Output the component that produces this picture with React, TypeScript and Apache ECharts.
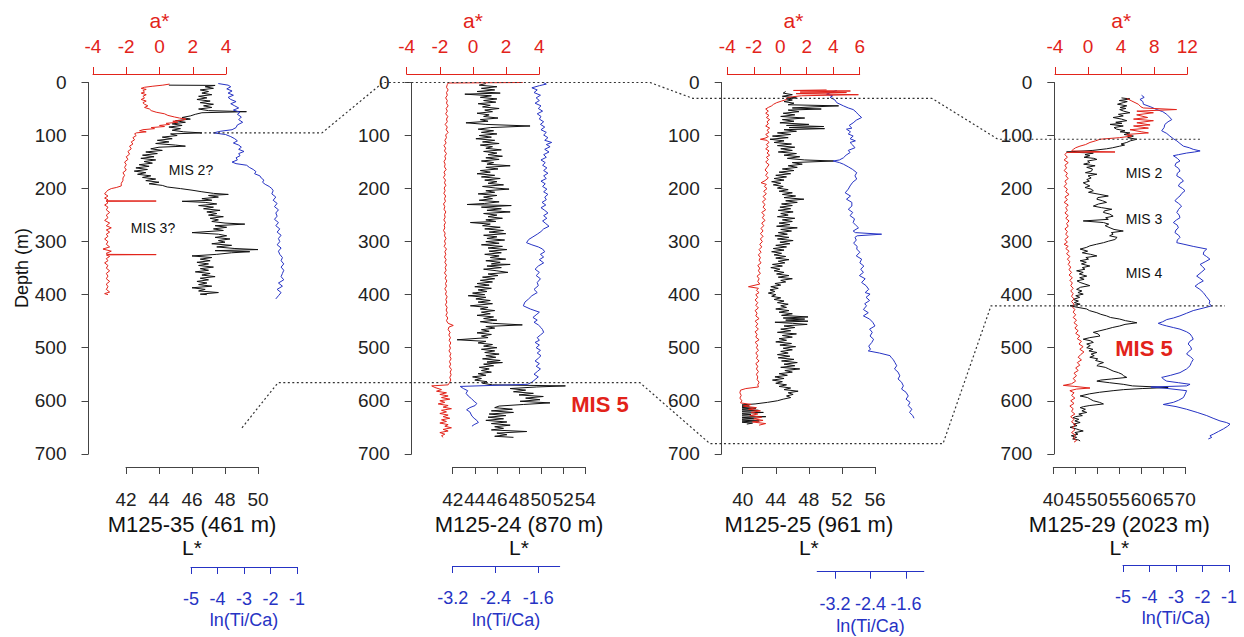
import React, { useEffect, useRef } from "react";
import * as echarts from "echarts";

// ---------------- DATA (pairs are [depth, value]) ----------------
const DEPTH_MIN = 0;
const DEPTH_MAX = 700;

const P1_A_TICKS = [-4, -2, 0, 2, 4];
const P1_L_TICKS = [42, 44, 46, 48, 50];
const P1_LN_TICKS = [-5, -4, -3, -2, -1];
const P2_A_TICKS = [-4, -2, 0, 2, 4];
const P2_L_TICKS = [42, 44, 46, 48, 50, 52, 54];
const P2_LN_TICKS = [-3.2, -2.4, -1.6];
const P3_A_TICKS = [-4, -2, 0, 2, 4, 6];
const P3_L_TICKS = [40, 44, 48, 52, 56];
const P3_LN_TICKS = [-3.2, -2.4, -1.6];
const P4_A_TICKS = [-4, 0, 4, 8, 12];
const P4_L_TICKS = [40, 45, 50, 55, 60, 65, 70];
const P4_LN_TICKS = [-5, -4, -3, -2, -1];

const P1_ASTAR: number[][] = [
  [3, 0.6], [5, 0.2], [7, -0.4], [9, -0.9], [11, -1.1], [13, -0.8], [15, -1.0], [18, -0.9], [20, -1.1], [23, -0.8],
  [26, -1.0], [29, -0.9], [32, -1.1], [35, -0.8], [38, -1.0], [41, -0.9], [44, -0.7], [47, -0.9], [50, -0.6], [53, -0.5],
  [56, -0.2], [59, 0.3], [62, 0.5], [65, 0.9], [67, 1.2], [69, 1.6], [71, 1.4], [73, 0.8], [75, 1.1], [77, 0.4],
  [79, 0.6], [81, 0.0], [83, 0.3], [85, -0.5], [87, -0.3], [89, -1.0], [91, -1.2], [93, -0.8], [95, -1.4], [97, -1.5],
  [100, -1.4], [104, -1.6], [108, -1.5], [112, -1.7], [116, -1.6], [120, -1.8], [125, -1.7], [130, -1.9], [135, -1.8], [140, -2.0],
  [145, -1.9], [150, -2.1], [155, -2.0], [160, -2.1], [165, -2.0], [170, -2.2], [175, -2.1], [180, -2.2], [185, -2.2], [190, -2.3],
  [195, -2.3], [198, -2.6], [200, -2.9], [203, -3.1], [206, -3.2], [210, -3.3], [214, -3.1], [218, -3.3], [221, -3.1], [223, -3.2],
  [223.5, -0.2], [224, -3.2], [227, -3.1], [231, -3.3], [235, -3.1], [240, -3.2], [245, -3.0], [250, -3.2], [255, -3.1], [260, -3.3],
  [265, -3.0], [270, -3.2], [274, -2.9], [278, -3.2], [282, -3.0], [286, -3.2], [290, -3.1], [295, -3.3], [300, -3.1], [305, -3.2],
  [310, -3.0], [314, -3.4], [318, -2.9], [322, -3.2], [324, -3.1], [324.5, -0.2], [325, -3.2], [328, -3.0], [332, -3.2], [336, -3.1],
  [340, -3.3], [345, -3.1], [350, -3.2], [355, -3.0], [360, -3.2], [365, -3.1], [370, -3.2], [375, -3.0], [380, -3.2], [385, -3.1],
  [390, -3.2], [395, -3.0], [398, -3.3], [400, -3.1]
];
const P1_LSTAR: number[][] = [
  [5, 44.6], [5.5, 47.4], [8, 46.8], [11, 47.3], [14, 46.5], [17, 47.0], [20, 46.6], [23, 47.2], [26, 46.4], [29, 46.9],
  [32, 46.3], [35, 47.1], [38, 46.5], [41, 47.3], [44, 46.7], [47, 47.2], [50, 46.4], [53, 47.0], [55, 49.3], [57, 46.6],
  [60, 46.2], [63, 45.9], [66, 45.4], [69, 45.9], [72, 45.0], [75, 45.6], [78, 44.8], [81, 45.4], [84, 44.6], [87, 45.3],
  [90, 44.8], [93, 45.5], [95, 46.6], [97, 44.7], [100, 45.1], [103, 44.2], [106, 44.8], [109, 43.9], [112, 44.6], [115, 43.8],
  [118, 45.0], [120, 45.6], [122, 44.0], [125, 43.5], [128, 44.2], [131, 43.2], [134, 43.9], [137, 43.0], [140, 43.7], [143, 42.9],
  [146, 43.8], [149, 43.1], [152, 43.6], [155, 42.8], [158, 43.4], [161, 42.6], [164, 43.3], [167, 42.5], [170, 43.2], [173, 42.7],
  [176, 43.5], [179, 43.0], [182, 43.8], [185, 43.2], [188, 44.0], [191, 43.4], [194, 44.2], [197, 44.5], [200, 45.3], [203, 46.0],
  [206, 46.6], [209, 47.3], [211, 48.2], [213, 47.0], [216, 47.6], [219, 46.6], [222, 47.2], [224, 45.4], [226, 46.8], [229, 47.5],
  [232, 46.4], [235, 47.3], [238, 46.7], [241, 47.7], [244, 46.9], [247, 47.5], [250, 47.0], [253, 47.9], [256, 47.1], [259, 47.6],
  [262, 47.2], [265, 48.0], [267, 49.2], [270, 47.4], [273, 48.1], [276, 47.3], [279, 47.9], [283, 46.0], [286, 47.6], [289, 48.1],
  [292, 47.4], [295, 48.3], [298, 47.6], [301, 48.0], [304, 47.2], [307, 48.4], [310, 47.5], [313, 48.6], [315, 50.0], [317, 47.4],
  [319, 49.5], [321, 48.4], [324, 47.5], [327, 46.0], [330, 47.2], [333, 46.5], [336, 47.1], [339, 46.3], [342, 47.0], [345, 46.4],
  [348, 47.3], [351, 46.5], [354, 47.0], [357, 46.2], [360, 47.1], [363, 46.6], [366, 47.4], [369, 46.5], [372, 47.0], [375, 46.3],
  [378, 46.9], [381, 46.4], [384, 47.2], [387, 46.0], [390, 46.8], [393, 46.4], [396, 47.6], [399, 46.5], [400, 46.9]
];
const P1_LNTICA: number[][] = [
  [2, -3.97], [5, -3.6], [8, -3.5], [12, -3.65], [16, -3.45], [20, -3.6], [24, -3.4], [28, -3.6], [32, -3.5], [36, -3.3],
  [40, -3.5], [44, -3.35], [48, -3.2], [52, -3.4], [56, -3.15], [60, -3.25], [65, -3.1], [70, -3.2], [75, -3.05], [80, -3.25],
  [85, -3.3], [89, -3.45], [92, -3.9], [95, -4.15], [98, -3.7], [102, -3.5], [106, -3.35], [110, -3.25], [114, -3.4], [118, -3.2],
  [122, -3.1], [126, -3.2], [130, -3.0], [134, -3.2], [138, -3.15], [142, -3.3], [146, -3.25], [150, -3.45], [153, -3.3], [156, -2.9],
  [160, -2.8], [164, -2.65], [168, -2.55], [172, -2.6], [176, -2.4], [180, -2.35], [184, -2.25], [188, -2.3], [192, -2.2], [196, -2.05],
  [200, -1.95], [204, -1.9], [210, -1.95], [216, -1.8], [222, -1.9], [228, -1.75], [234, -1.85], [240, -1.7], [246, -1.8], [252, -1.75],
  [258, -1.85], [264, -1.7], [270, -1.8], [276, -1.65], [282, -1.75], [288, -1.6], [294, -1.7], [300, -1.65], [306, -1.75], [312, -1.6],
  [318, -1.7], [324, -1.65], [330, -1.55], [336, -1.6], [342, -1.5], [348, -1.6], [354, -1.5], [360, -1.55], [366, -1.6], [372, -1.5],
  [378, -1.7], [384, -1.55], [390, -1.75], [396, -1.6], [402, -1.7], [408, -1.8]
];

const P2_ASTAR: number[][] = [
  [0, 3.0], [1, -1.5], [4, -1.55], [9, -1.6], [14, -1.5], [19, -1.6], [24, -1.55], [29, -1.65], [34, -1.55], [39, -1.6],
  [44, -1.5], [49, -1.62], [54, -1.55], [59, -1.65], [64, -1.52], [69, -1.6], [74, -1.55], [79, -1.68], [84, -1.55], [89, -1.62],
  [94, -1.5], [99, -1.65], [104, -1.6], [109, -1.7], [114, -1.62], [119, -1.75], [124, -1.65], [129, -1.72], [134, -1.6], [139, -1.7],
  [144, -1.65], [149, -1.75], [154, -1.68], [159, -1.72], [164, -1.62], [169, -1.75], [174, -1.68], [179, -1.78], [184, -1.66], [189, -1.72],
  [194, -1.64], [199, -1.74], [204, -1.68], [209, -1.76], [214, -1.65], [219, -1.72], [224, -1.66], [229, -1.78], [234, -1.7], [239, -1.75],
  [244, -1.64], [249, -1.72], [254, -1.68], [259, -1.76], [264, -1.66], [269, -1.74], [274, -1.7], [279, -1.78], [284, -1.68], [289, -1.72],
  [294, -1.63], [299, -1.72], [304, -1.66], [309, -1.74], [314, -1.6], [319, -1.7], [324, -1.64], [329, -1.72], [334, -1.62], [339, -1.7],
  [344, -1.6], [349, -1.68], [354, -1.62], [359, -1.72], [364, -1.6], [369, -1.68], [374, -1.58], [379, -1.66], [384, -1.6], [389, -1.7],
  [394, -1.6], [399, -1.66], [404, -1.56], [409, -1.64], [414, -1.58], [419, -1.66], [424, -1.56], [429, -1.62], [434, -1.55], [439, -1.63],
  [444, -1.52], [449, -1.6], [454, -1.5], [458, -1.19], [461, -1.45], [466, -1.5], [471, -1.38], [476, -1.46], [481, -1.36], [486, -1.44],
  [491, -1.34], [496, -1.42], [501, -1.36], [506, -1.45], [511, -1.34], [516, -1.4], [521, -1.32], [526, -1.42], [531, -1.35], [536, -1.42],
  [541, -1.3], [546, -1.38], [551, -1.32], [556, -1.4], [561, -1.34], [566, -1.42], [570, -1.5], [572, -2.49], [575, -2.3], [579, -1.9],
  [582, -2.2], [585, -1.6], [588, -2.0], [591, -1.5], [594, -1.9], [597, -1.4], [600, -2.0], [603, -1.7], [606, -2.1], [609, -1.5],
  [612, -1.8], [615, -1.3], [618, -1.9], [621, -1.6], [624, -2.0], [627, -1.5], [630, -1.8], [633, -1.4], [636, -1.9], [639, -1.6],
  [642, -2.0], [645, -1.5], [648, -1.7], [651, -1.3], [654, -1.8], [657, -1.5], [660, -2.0], [663, -1.7], [666, -1.9], [669, -1.8]
];
const P2_LSTAR: number[][] = [
  [2, 45.0], [5, 44.4], [8, 46.0], [11, 44.6], [14, 45.8], [17, 44.2], [20, 46.3], [22, 43.1], [25, 45.5], [28, 44.5],
  [31, 46.0], [34, 44.8], [37, 45.9], [40, 44.3], [43, 45.4], [46, 44.7], [49, 46.2], [52, 44.9], [55, 45.6], [58, 44.2],
  [61, 45.3], [64, 44.8], [67, 46.1], [70, 44.5], [73, 45.2], [76, 43.2], [79, 45.0], [82, 49.0], [85, 45.4], [88, 44.3],
  [91, 45.7], [94, 44.6], [97, 46.0], [100, 44.4], [103, 45.5], [106, 44.1], [109, 45.8], [112, 44.7], [115, 46.2], [118, 44.5],
  [121, 45.6], [124, 45.0], [127, 46.4], [130, 44.8], [133, 46.0], [136, 45.2], [139, 46.5], [142, 45.0], [145, 46.2], [148, 44.6],
  [151, 45.7], [154, 45.1], [157, 47.2], [160, 45.0], [163, 46.1], [166, 44.5], [169, 45.4], [172, 44.2], [175, 45.8], [178, 44.6],
  [181, 46.3], [184, 44.9], [187, 46.0], [190, 45.2], [193, 46.6], [196, 44.7], [199, 45.9], [201, 47.1], [204, 45.0], [207, 45.8],
  [210, 44.3], [213, 46.0], [216, 44.8], [219, 45.6], [222, 44.4], [225, 46.2], [228, 44.9], [230, 43.3], [232, 47.3], [235, 44.6],
  [238, 46.4], [241, 45.1], [244, 47.2], [247, 44.8], [250, 46.0], [253, 45.2], [256, 46.5], [259, 45.0], [262, 45.9], [264, 43.6],
  [267, 45.4], [270, 44.7], [273, 46.3], [276, 44.9], [279, 46.6], [282, 45.3], [285, 46.8], [288, 44.8], [291, 46.0], [294, 45.1],
  [297, 46.7], [300, 45.0], [303, 46.2], [306, 44.6], [309, 46.5], [312, 45.2], [315, 46.9], [318, 45.3], [321, 46.4], [324, 44.9],
  [327, 46.2], [330, 45.4], [333, 46.8], [336, 45.0], [339, 46.3], [342, 45.5], [343, 47.2], [346, 45.1], [349, 46.4], [352, 44.8],
  [355, 46.0], [358, 47.0], [361, 45.2], [364, 46.1], [367, 44.7], [370, 45.8], [373, 44.5], [376, 45.6], [379, 44.2], [382, 45.3],
  [385, 44.0], [388, 45.5], [391, 44.3], [394, 45.1], [397, 43.8], [400, 44.9], [402, 43.4], [405, 45.0], [408, 44.1], [411, 45.4],
  [414, 44.3], [417, 45.6], [421, 43.6], [424, 45.2], [427, 44.5], [430, 45.8], [433, 44.6], [436, 45.4], [439, 44.2], [442, 45.7],
  [445, 44.8], [448, 46.0], [451, 44.5], [454, 45.6], [457, 48.3], [460, 45.0], [463, 45.8], [466, 44.6], [469, 45.3], [472, 44.2],
  [475, 45.5], [478, 44.6], [481, 45.2], [485, 42.4], [488, 45.0], [491, 44.3], [494, 45.6], [497, 44.8], [500, 46.0], [503, 44.6],
  [506, 45.8], [509, 44.9], [512, 46.2], [515, 45.0], [518, 45.9], [521, 44.7], [524, 46.3], [527, 45.1], [528, 46.5], [531, 44.8],
  [534, 45.7], [537, 44.4], [540, 45.3], [543, 44.6], [546, 45.5], [549, 44.3], [552, 45.0], [555, 43.8], [558, 44.6], [561, 44.0],
  [564, 45.1], [567, 44.7], [570, 45.6], [572, 52.2], [574, 49.6], [577, 47.2], [580, 48.6], [583, 47.5], [586, 49.3], [589, 48.0],
  [592, 50.2], [595, 48.6], [598, 49.9], [601, 48.1], [604, 50.8], [607, 48.4], [610, 46.2], [613, 45.8], [616, 47.4], [619, 45.5],
  [622, 47.5], [625, 45.3], [628, 46.8], [631, 45.2], [634, 46.6], [637, 45.0], [640, 46.9], [643, 45.5], [646, 47.2], [649, 45.8],
  [652, 46.6], [655, 45.5], [658, 48.7], [661, 46.0], [664, 46.9], [667, 45.8], [669, 47.5]
];
const P2_LNTICA: number[][] = [
  [0, -1.51], [3, -1.45], [6, -1.58], [10, -1.72], [14, -1.62], [19, -1.68], [24, -1.56], [29, -1.64], [34, -1.58], [39, -1.66],
  [44, -1.55], [49, -1.6], [54, -1.52], [59, -1.62], [64, -1.55], [69, -1.58], [74, -1.5], [79, -1.56], [84, -1.48], [89, -1.55],
  [94, -1.45], [99, -1.5], [104, -1.42], [109, -1.48], [113, -1.35], [117, -1.45], [121, -1.38], [126, -1.48], [131, -1.4], [136, -1.5],
  [141, -1.45], [146, -1.55], [151, -1.47], [156, -1.52], [161, -1.44], [166, -1.5], [171, -1.42], [176, -1.5], [181, -1.45], [186, -1.55],
  [191, -1.47], [196, -1.52], [201, -1.44], [206, -1.5], [211, -1.42], [216, -1.48], [221, -1.45], [226, -1.53], [231, -1.46], [236, -1.55],
  [241, -1.48], [246, -1.42], [251, -1.5], [256, -1.44], [261, -1.52], [266, -1.46], [271, -1.4], [276, -1.5], [281, -1.55], [286, -1.62],
  [291, -1.7], [296, -1.78], [302, -1.82], [306, -1.72], [310, -1.6], [314, -1.52], [319, -1.48], [324, -1.56], [329, -1.5], [334, -1.58],
  [340, -1.5], [346, -1.6], [352, -1.66], [358, -1.58], [364, -1.64], [370, -1.56], [377, -1.62], [383, -1.6], [390, -1.68], [396, -1.62],
  [402, -1.72], [408, -1.78], [414, -1.85], [421, -1.88], [427, -1.75], [433, -1.58], [438, -1.64], [443, -1.7], [448, -1.62], [452, -1.68],
  [457, -1.6], [462, -1.55], [466, -1.52], [471, -1.5], [476, -1.56], [481, -1.62], [486, -1.58], [490, -1.66], [495, -1.58], [500, -1.64],
  [505, -1.56], [510, -1.62], [515, -1.55], [520, -1.6], [525, -1.66], [530, -1.58], [535, -1.64], [540, -1.56], [545, -1.62], [550, -1.68],
  [555, -1.6], [560, -1.66], [565, -1.72], [569, -1.8], [573, -3.06], [577, -3.0], [581, -2.92], [586, -2.95], [591, -2.91], [596, -2.85],
  [601, -2.8], [605, -2.75], [609, -2.78], [613, -2.88], [617, -2.94], [621, -2.88], [625, -2.86], [629, -2.84], [633, -2.8], [637, -2.75],
  [641, -2.72], [645, -2.8], [648, -2.84]
];

const P3_ASTAR: number[][] = [
  [14, 3.5], [15, 1.0], [16, 5.3], [18, 1.5], [19, 5.0], [21, 1.2], [23, 5.9], [25, 1.6], [27, 0.9], [29, 0.5],
  [32, 0.48], [35, 0.1], [38, -0.27], [41, -0.5], [44, -0.65], [47, -0.9], [50, -1.1], [54, -0.9], [58, -1.1], [62, -0.85],
  [66, -1.05], [70, -0.8], [74, -1.0], [78, -0.9], [82, -1.1], [86, -0.8], [90, -1.0], [94, -0.85], [98, -1.1], [102, -0.9],
  [105, -1.15], [107, -1.5], [109, -1.0], [113, -0.85], [117, -1.05], [121, -0.9], [125, -1.1], [129, -0.85], [133, -1.0], [137, -0.8],
  [141, -1.05], [145, -0.9], [150, -1.1], [155, -0.85], [160, -1.0], [165, -1.15], [170, -0.95], [175, -1.1], [180, -0.9], [185, -1.15],
  [189, -1.45], [192, -1.05], [196, -1.2], [200, -1.0], [205, -1.25], [210, -1.05], [215, -1.3], [220, -1.1], [225, -1.35], [230, -1.15],
  [235, -1.3], [240, -1.1], [245, -1.4], [250, -1.2], [255, -1.35], [260, -1.15], [265, -1.4], [270, -1.25], [275, -1.45], [280, -1.3],
  [285, -1.5], [290, -1.3], [295, -1.5], [300, -1.35], [305, -1.55], [310, -1.4], [315, -1.6], [320, -1.45], [325, -1.65], [330, -1.5],
  [335, -1.6], [340, -1.45], [345, -1.7], [350, -1.55], [355, -1.65], [360, -1.5], [365, -1.75], [370, -1.6], [375, -1.7], [380, -1.55],
  [385, -2.4], [388, -1.65], [392, -1.8], [396, -1.6], [400, -1.85], [405, -1.7], [410, -1.9], [415, -1.7], [420, -1.85], [425, -1.65],
  [430, -1.9], [435, -1.75], [440, -1.85], [445, -1.6], [450, -1.9], [455, -1.7], [460, -1.85], [465, -1.65], [470, -1.9], [475, -1.75],
  [480, -1.85], [485, -1.6], [490, -1.9], [495, -1.7], [500, -1.8], [505, -1.65], [510, -1.85], [515, -1.7], [520, -1.8], [525, -1.6],
  [530, -1.85], [535, -1.7], [540, -1.8], [545, -1.65], [550, -1.8], [555, -1.7], [560, -1.75], [565, -1.6], [570, -1.7], [574, -1.65],
  [577, -2.6], [580, -3.0], [585, -3.05], [590, -2.95], [595, -3.05], [600, -2.9], [604, -3.0], [607, -2.2], [610, -2.8], [613, -1.8],
  [616, -2.4], [619, -1.5], [622, -2.2], [625, -1.7], [628, -2.3], [631, -1.4], [634, -2.0], [637, -1.3], [640, -2.1], [643, -1.1],
  [646, -1.6]
];
const P3_LSTAR: number[][] = [
  [17, 45.2], [20, 44.9], [23, 46.0], [26, 44.8], [29, 46.5], [31, 45.3], [33, 46.0], [36, 45.0], [39, 46.2], [42, 45.5],
  [44, 51.6], [46, 48.5], [48, 46.0], [50, 49.5], [52, 45.5], [55, 46.8], [58, 44.9], [61, 46.3], [64, 44.6], [67, 47.5],
  [70, 44.8], [73, 46.2], [76, 44.5], [79, 48.0], [81, 45.3], [83, 49.8], [85, 45.6], [87, 49.9], [89, 45.0], [92, 46.5],
  [95, 44.2], [98, 45.8], [101, 43.6], [104, 45.5], [107, 43.3], [110, 45.0], [113, 43.8], [116, 45.9], [119, 44.2], [122, 46.3],
  [125, 44.6], [128, 46.0], [131, 44.3], [134, 46.5], [137, 45.0], [140, 46.9], [143, 45.4], [146, 47.5], [148, 51.0], [151, 46.0],
  [154, 47.2], [157, 45.5], [160, 46.6], [163, 44.8], [166, 46.2], [169, 44.4], [172, 45.8], [175, 44.0], [178, 45.3], [181, 43.8],
  [184, 45.0], [187, 43.5], [190, 44.6], [193, 43.7], [196, 44.9], [199, 44.2], [202, 45.5], [205, 44.4], [208, 46.0], [211, 44.8],
  [214, 46.4], [217, 45.0], [220, 47.4], [223, 45.2], [226, 46.6], [229, 44.7], [232, 46.0], [235, 44.5], [238, 45.8], [241, 44.3],
  [244, 46.1], [247, 44.6], [250, 45.5], [253, 44.2], [256, 46.3], [259, 44.8], [262, 46.0], [265, 44.4], [268, 45.7], [271, 44.1],
  [274, 46.6], [277, 44.6], [280, 45.9], [283, 44.3], [286, 45.4], [289, 43.9], [292, 45.6], [295, 44.2], [298, 46.1], [301, 44.5],
  [304, 45.7], [307, 44.0], [310, 45.3], [313, 43.7], [316, 45.0], [319, 43.5], [322, 44.7], [325, 43.8], [328, 45.2], [331, 44.0],
  [334, 45.6], [337, 44.3], [340, 45.1], [343, 43.6], [346, 44.8], [349, 43.4], [352, 44.5], [355, 43.8], [358, 45.0], [361, 44.1],
  [364, 45.6], [367, 44.3], [370, 46.0], [373, 44.6], [376, 45.2], [379, 43.9], [382, 44.6], [385, 43.4], [388, 44.3], [391, 43.3],
  [394, 43.9], [397, 43.1], [400, 44.0], [403, 43.5], [406, 44.6], [409, 43.8], [412, 45.0], [415, 44.2], [418, 45.5], [421, 44.6],
  [424, 45.3], [427, 44.0], [430, 45.6], [433, 44.4], [436, 46.0], [439, 44.7], [442, 47.9], [444, 44.9], [446, 47.5], [448, 45.2],
  [450, 47.9], [452, 43.9], [454, 46.0], [456, 47.8], [459, 45.0], [462, 46.3], [465, 44.6], [468, 45.8], [471, 44.2], [474, 46.5],
  [477, 44.8], [480, 46.0], [483, 44.4], [486, 45.3], [489, 44.0], [492, 45.9], [495, 44.5], [498, 46.4], [501, 44.9], [504, 46.0],
  [507, 44.6], [510, 45.5], [513, 44.2], [516, 45.7], [519, 44.3], [522, 46.2], [525, 44.7], [528, 46.6], [531, 45.0], [534, 46.3],
  [537, 44.6], [540, 46.9], [543, 45.1], [546, 46.0], [549, 44.4], [552, 45.4], [555, 43.9], [558, 45.0], [561, 43.6], [564, 44.8],
  [567, 44.0], [570, 45.3], [573, 44.4], [576, 45.8], [579, 45.0], [582, 46.7], [585, 45.5], [588, 46.1], [591, 45.3], [594, 45.8],
  [597, 44.9], [600, 44.2], [603, 43.0], [606, 41.5], [608, 39.6], [610, 40.8], [612, 39.2], [614, 41.6], [616, 39.0], [618, 41.9],
  [620, 38.9], [622, 42.5], [624, 39.4], [626, 41.0], [628, 38.8], [630, 42.8], [632, 39.5], [634, 41.4], [636, 38.7], [638, 42.0],
  [640, 39.3], [642, 41.2], [644, 40.5]
];
const P3_LNTICA: number[][] = [
  [15, -3.16], [19, -3.3], [22, -3.39], [25, -3.25], [28, -3.31], [33, -3.2], [38, -3.16], [44, -3.01], [48, -2.9], [51, -2.79],
  [56, -2.72], [60, -2.68], [66, -2.6], [71, -2.72], [76, -2.79], [81, -2.88], [86, -2.82], [88, -2.94], [93, -2.85], [97, -2.9],
  [101, -2.79], [106, -2.86], [110, -2.74], [113, -2.86], [118, -2.8], [123, -2.75], [128, -2.9], [132, -2.86], [137, -2.95], [142, -3.01],
  [146, -3.1], [148, -3.24], [151, -3.1], [154, -3.01], [159, -2.9], [164, -2.8], [170, -2.71], [176, -2.75], [182, -2.71], [188, -2.8],
  [195, -2.86], [201, -2.9], [208, -2.97], [214, -2.85], [220, -2.94], [226, -2.82], [233, -2.82], [239, -2.9], [245, -2.8], [251, -2.86],
  [257, -2.76], [264, -2.79], [270, -2.72], [274, -2.67], [280, -2.79], [283, -2.74], [286, -2.15], [289, -2.7], [292, -2.75], [297, -2.72],
  [303, -2.78], [309, -2.7], [314, -2.71], [320, -2.64], [327, -2.72], [333, -2.6], [340, -2.64], [346, -2.55], [352, -2.62], [358, -2.56],
  [364, -2.65], [370, -2.52], [377, -2.6], [383, -2.5], [390, -2.44], [396, -2.52], [399, -2.41], [405, -2.5], [411, -2.42], [417, -2.53],
  [421, -2.49], [428, -2.56], [434, -2.45], [440, -2.56], [446, -2.42], [452, -2.35], [459, -2.3], [465, -2.42], [471, -2.36], [478, -2.41],
  [484, -2.33], [490, -2.37], [497, -2.44], [503, -2.4], [506, -2.45], [510, -2.2], [515, -1.96], [519, -1.93], [522, -1.89], [528, -1.85],
  [534, -1.81], [540, -1.86], [546, -1.78], [553, -1.74], [559, -1.78], [565, -1.7], [572, -1.66], [578, -1.7], [584, -1.6], [591, -1.55],
  [597, -1.6], [603, -1.51], [609, -1.55], [616, -1.47], [622, -1.52], [628, -1.45], [633, -1.42]
];

const P4_ASTAR: number[][] = [
  [30, 4.67], [35, 5.3], [41, 6.08], [46, 6.4], [48, 6.68], [51, 10.7], [54, 5.9], [57, 7.9], [61, 5.88], [66, 7.2],
  [69, 5.5], [72, 7.9], [76, 5.9], [80, 7.5], [82, 5.5], [86, 7.3], [89, 5.07], [93, 6.5], [95, 7.3], [98, 4.67],
  [101, 5.3], [104, 3.8], [107, 1.44], [110, 0.9], [113, 0.23], [117, -0.3], [120, -0.98], [123, -1.5], [126, -1.78], [129, -2.0],
  [131, 3.26], [132, -2.59], [136, -2.8], [141, -2.5], [146, -2.9], [151, -2.4], [156, -2.8], [161, -2.6], [166, -2.9], [171, -2.5],
  [176, -2.7], [181, -2.4], [186, -2.8], [191, -2.6], [196, -2.9], [201, -2.5], [206, -2.7], [211, -2.3], [216, -2.8], [221, -2.5],
  [226, -2.9], [231, -2.4], [236, -2.7], [241, -2.5], [246, -2.8], [251, -2.4], [256, -2.7], [261, -2.3], [266, -2.6], [271, -2.4],
  [276, -2.8], [281, -2.5], [286, -2.7], [291, -2.4], [296, -2.8], [301, -2.5], [305, -2.9], [309, -2.4], [313, -2.7], [318, -2.3],
  [323, -2.6], [328, -2.2], [333, -2.5], [338, -2.2], [343, -2.4], [348, -2.1], [353, -2.3], [358, -2.0], [363, -2.3], [368, -1.9],
  [373, -2.2], [378, -1.9], [383, -2.1], [388, -1.8], [393, -2.1], [398, -1.8], [403, -2.0], [408, -1.7], [413, -2.0], [418, -1.7],
  [423, -1.9], [428, -1.6], [433, -1.8], [438, -1.5], [443, -1.8], [448, -1.4], [453, -1.7], [458, -1.3], [463, -1.6], [468, -1.2],
  [473, -1.5], [478, -1.0], [483, -1.3], [488, -0.8], [493, -1.1], [498, -0.6], [503, -1.0], [508, -0.5], [513, -0.9], [518, -1.2],
  [523, -0.8], [528, -1.3], [533, -1.0], [538, -1.5], [543, -1.2], [548, -1.7], [553, -1.4], [558, -1.8], [563, -1.5], [568, -2.0],
  [571, -2.99], [573, -1.6], [576, 0.23], [578, -1.4], [581, -2.2], [585, -1.7], [590, -2.0], [595, -1.6], [600, -2.1], [605, -1.7],
  [610, -2.2], [615, -1.8], [620, -2.0], [625, -1.6], [630, -2.1], [635, -1.7], [640, -2.0], [645, -1.5], [650, -1.9], [655, -1.6],
  [660, -2.0], [665, -1.5], [670, -1.8], [675, -1.4], [678, -1.7]
];
const P4_LSTAR: number[][] = [
  [29, 55.5], [31, 57.4], [34, 55.0], [36, 56.8], [38, 55.9], [41, 54.6], [44, 56.7], [47, 55.2], [49, 56.5], [51, 55.1],
  [54, 56.0], [57, 57.4], [60, 54.8], [63, 55.9], [66, 53.6], [69, 55.5], [72, 56.7], [75, 54.2], [77, 55.6], [79, 52.9],
  [82, 55.9], [85, 53.8], [88, 54.4], [91, 56.3], [93, 55.2], [95, 57.4], [98, 56.1], [101, 58.2], [104, 56.9], [107, 59.0],
  [110, 57.5], [113, 56.7], [116, 55.4], [118, 56.2], [120, 55.1], [123, 53.5], [125, 52.1], [128, 49.0], [131, 43.0], [133, 49.1],
  [136, 47.2], [138, 48.3], [141, 47.0], [143, 49.2], [145, 49.9], [148, 47.8], [151, 48.3], [154, 46.9], [157, 49.5], [160, 47.6],
  [163, 48.9], [167, 48.7], [170, 47.3], [173, 49.9], [176, 47.9], [180, 48.6], [183, 47.6], [186, 48.2], [189, 46.8], [192, 47.5],
  [195, 48.3], [198, 47.2], [201, 48.6], [204, 49.1], [207, 48.0], [211, 50.6], [214, 52.5], [217, 50.1], [220, 49.9], [223, 51.2],
  [226, 52.1], [229, 50.3], [233, 49.1], [236, 51.0], [239, 53.3], [242, 51.6], [245, 51.4], [248, 52.8], [252, 53.6], [255, 51.9],
  [258, 52.5], [261, 46.8], [264, 51.4], [267, 52.6], [270, 51.8], [274, 52.9], [277, 53.8], [280, 55.9], [283, 53.2], [286, 53.6],
  [289, 52.8], [292, 54.5], [296, 54.0], [299, 52.6], [302, 51.4], [305, 49.8], [308, 48.3], [311, 47.5], [314, 46.1], [318, 47.8],
  [321, 46.6], [324, 48.5], [327, 49.9], [330, 47.4], [333, 48.0], [336, 46.1], [339, 47.5], [342, 46.4], [346, 48.3], [349, 46.6],
  [352, 47.2], [355, 45.3], [358, 46.8], [361, 45.9], [365, 47.6], [368, 46.0], [371, 47.0], [374, 45.4], [377, 46.1], [380, 47.2],
  [383, 48.3], [386, 46.2], [390, 45.3], [393, 46.5], [396, 45.6], [399, 46.8], [402, 45.1], [405, 46.0], [409, 44.5], [412, 45.7],
  [415, 44.8], [418, 46.1], [421, 43.8], [424, 45.6], [427, 47.6], [430, 48.2], [434, 49.9], [437, 50.8], [440, 52.1], [443, 53.0],
  [446, 55.1], [449, 56.4], [451, 57.8], [453, 59.0], [456, 56.3], [459, 55.1], [462, 53.4], [465, 52.1], [468, 50.6], [471, 49.1],
  [474, 50.2], [478, 50.6], [481, 48.3], [484, 46.8], [487, 48.5], [490, 49.1], [493, 47.6], [496, 48.4], [500, 47.6], [503, 49.0],
  [506, 48.1], [509, 49.9], [512, 48.6], [515, 49.3], [518, 48.3], [521, 50.1], [524, 49.6], [528, 51.4], [531, 50.3], [534, 49.9],
  [537, 51.8], [540, 52.6], [544, 53.6], [547, 54.8], [550, 55.6], [553, 56.0], [556, 56.7], [559, 53.2], [561, 50.8], [563, 49.9],
  [566, 52.8], [569, 55.9], [572, 58.0], [575, 66.1], [577, 60.2], [579, 56.0], [581, 53.6], [584, 50.5], [587, 48.2], [591, 46.1],
  [594, 47.8], [597, 48.4], [600, 49.1], [603, 50.5], [606, 51.4], [609, 48.3], [611, 46.9], [613, 46.1], [616, 47.3], [619, 46.5],
  [622, 47.6], [625, 45.8], [628, 46.6], [630, 45.0], [632, 44.5], [635, 45.8], [638, 44.9], [641, 46.1], [644, 44.6], [647, 45.4],
  [650, 43.8], [653, 45.2], [655, 45.9], [657, 46.8], [660, 44.9], [663, 45.6], [666, 44.1], [669, 45.3], [672, 44.4], [674, 45.8],
  [676, 46.1]
];
const P4_LNTICA: number[][] = [
  [24, -4.3], [28, -4.2], [32, -4.36], [36, -4.25], [41, -4.23], [46, -3.95], [51, -3.73], [55, -3.5], [60, -3.35], [65, -3.25],
  [70, -3.16], [74, -3.3], [79, -3.42], [85, -3.45], [91, -3.54], [96, -3.35], [101, -3.23], [106, -3.1], [110, -2.97], [115, -2.85],
  [120, -2.72], [123, -2.5], [126, -2.35], [129, -2.09], [131, -2.3], [133, -2.6], [136, -2.9], [138, -3.1], [143, -2.95], [148, -2.85],
  [152, -3.0], [157, -3.04], [162, -2.9], [167, -2.85], [171, -2.95], [176, -2.97], [181, -2.8], [186, -2.72], [190, -2.85], [195, -2.91],
  [200, -2.75], [204, -2.66], [209, -2.78], [214, -2.85], [218, -2.95], [223, -3.04], [228, -2.9], [233, -2.79], [239, -2.9], [245, -2.97],
  [250, -2.88], [255, -2.85], [259, -2.98], [264, -3.1], [269, -2.95], [274, -2.91], [278, -3.0], [283, -3.04], [288, -2.9], [292, -2.85],
  [297, -2.95], [302, -2.97], [305, -2.7], [309, -2.35], [314, -1.84], [319, -1.95], [324, -1.97], [328, -1.85], [333, -1.72], [338, -1.9],
  [343, -2.09], [347, -2.0], [352, -1.91], [358, -2.05], [365, -2.22], [369, -2.1], [374, -1.97], [379, -2.15], [384, -2.28], [390, -2.1],
  [396, -1.97], [404, -1.85], [412, -1.72], [417, -1.75], [421, -1.65], [425, -1.95], [430, -2.35], [435, -2.6], [440, -2.85], [444, -3.1],
  [447, -3.35], [451, -3.5], [454, -3.67], [457, -3.5], [459, -3.35], [462, -3.1], [465, -2.85], [470, -2.6], [474, -2.47], [479, -2.4],
  [484, -2.35], [488, -2.48], [493, -2.54], [498, -2.45], [503, -2.41], [507, -2.52], [512, -2.6], [517, -2.45], [522, -2.35], [528, -2.42],
  [534, -2.47], [540, -2.6], [547, -2.85], [552, -3.2], [556, -3.54], [560, -3.45], [563, -3.35], [566, -2.9], [569, -2.47], [572, -2.6],
  [574, -3.95], [577, -3.3], [581, -2.6], [587, -2.65], [594, -2.72], [599, -2.9], [603, -3.1], [607, -3.48], [611, -3.0], [616, -2.6],
  [622, -2.2], [628, -1.84], [633, -1.6], [638, -1.34], [641, -1.1], [644, -0.96], [648, -1.05], [653, -1.21], [658, -1.4], [663, -1.59],
  [666, -1.72], [669, -1.65], [672, -1.78]
];

// correlation (tie) lines: depth per vertex
const TIE_UPPER_DEPTH = [95, 95, 0, 0, 30, 30, 107, 107];
const TIE_LOWER_DEPTH = [651, 566, 566, 681, 681, 421, 421];

// ---------------- LAYOUT / STYLE ----------------
const W = 1244;
const H = 637;
const TOP = 82.5;
const PLOT_H = 371.3;
const FONT = "'Liberation Sans', Arial, Helvetica, sans-serif";
const RED = "#e2231a";
const BLUE = "#2633c4";
const BLACK = "#111111";
const AXIS_GRAY = "#444444";
const TIE_UPPER_X = [200, 322, 383, 650, 693, 932, 998, 1200];
const TIE_LOWER_X = [242, 278, 640, 710, 943, 991, 1225];

const PANELS = [
  {
    title: "M125-35 (461 m)", depthX: 88.5,
    a: { min: -4, max: 4, ticks: P1_A_TICKS, x0: 93, x1: 226 },
    L: { min: 42, max: 50, ticks: P1_L_TICKS, x0: 126, x1: 258 },
    ln: { min: -5, max: -1, ticks: P1_LN_TICKS, x0: 191, x1: 297, y: 567, nameY: 620 },
    aData: P1_ASTAR, LData: P1_LSTAR, lnData: P1_LNTICA,
  },
  {
    title: "M125-24 (870 m)", depthX: 411.7,
    a: { min: -4, max: 4, ticks: P2_A_TICKS, x0: 406.7, x1: 539.3 },
    L: { min: 42, max: 54, ticks: P2_L_TICKS, x0: 452.7, x1: 585.3 },
    ln: { min: -3.2, max: -1.2, ticks: P2_LN_TICKS, x0: 452.7, x1: 559.7, y: 566, nameY: 620 },
    aData: P2_ASTAR, LData: P2_LSTAR, lnData: P2_LNTICA,
  },
  {
    title: "M125-25 (961 m)", depthX: 721.7,
    a: { min: -4, max: 6, ticks: P3_A_TICKS, x0: 727.3, x1: 859.7 },
    L: { min: 40, max: 56, ticks: P3_L_TICKS, x0: 742.7, x1: 875 },
    ln: { min: -3.6, max: -1.2, ticks: P3_LN_TICKS, x0: 817.2, x1: 923.8, y: 571.7, nameY: 626 },
    aData: P3_ASTAR, LData: P3_LSTAR, lnData: P3_LNTICA,
  },
  {
    title: "M125-29 (2023 m)", depthX: 1054.3,
    a: { min: -4, max: 12, ticks: P4_A_TICKS, x0: 1055, x1: 1187.3 },
    L: { min: 40, max: 70, ticks: P4_L_TICKS, x0: 1053.3, x1: 1185.3 },
    ln: { min: -5, max: -1, ticks: P4_LN_TICKS, x0: 1123, x1: 1229, y: 565, nameY: 618 },
    aData: P4_ASTAR, LData: P4_LSTAR, lnData: P4_LNTICA,
  },
];

const MIS_LABELS = [
  { text: "MIS 2?", x: 191, y: 170, bold: false },
  { text: "MIS 3?", x: 153, y: 228, bold: false },
  { text: "MIS 5", x: 600, y: 404, bold: true },
  { text: "MIS 2", x: 1144, y: 173, bold: false },
  { text: "MIS 3", x: 1144, y: 219, bold: false },
  { text: "MIS 4", x: 1144, y: 273, bold: false },
  { text: "MIS 5", x: 1144, y: 348, bold: true },
];

function text(x: number, y: number, s: string, color: string, size: number, weight: string = "normal", rotation = 0) {
  return {
    type: "text", x, y, rotation, silent: true,
    style: { text: s, fill: color, fontSize: size, fontFamily: FONT, fontWeight: weight, align: "center", verticalAlign: "middle" },
  };
}

function buildOption() {
  const grid: any[] = [];
  const xAxis: any[] = [];
  const yAxis: any[] = [];
  const series: any[] = [];
  const graphic: any[] = [];

  const hiddenY = (gi: number) => ({ gridIndex: gi, type: "value", min: DEPTH_MIN, max: DEPTH_MAX, inverse: true, show: false });
  const addGrid = (left: number, width: number) => {
    grid.push({ left, top: TOP, width, height: PLOT_H, containLabel: false, outerBoundsMode: "none" });
    return grid.length - 1;
  };

  PANELS.forEach((p) => {
    // depth axis
    const gd = addGrid(p.depthX, 1);
    xAxis.push({ gridIndex: gd, type: "value", min: 0, max: 1, show: false });
    yAxis.push({
      gridIndex: gd, type: "value", min: DEPTH_MIN, max: DEPTH_MAX, interval: 100, inverse: true, position: "left",
      axisLine: { show: true, onZero: false, lineStyle: { color: AXIS_GRAY, width: 1 } },
      axisTick: { show: true, length: 7, lineStyle: { color: AXIS_GRAY, width: 1 } },
      axisLabel: { show: true, margin: 22, color: "#222", fontSize: 19, fontFamily: FONT },
      splitLine: { show: false },
    });

    const addVar = (spec: any, pos: string, offset: number, axisColor: string, labelColor: string, lineColor: string,
      margin: number, fontSize: number, data: number[][]) => {
      const gi = addGrid(spec.x0, spec.x1 - spec.x0);
      xAxis.push({
        gridIndex: gi, type: "value", position: pos, offset, min: spec.min, max: spec.max,
        axisLine: { show: true, onZero: false, lineStyle: { color: axisColor, width: 1 } },
        axisTick: { show: true, length: 7, customValues: spec.ticks, lineStyle: { color: axisColor, width: 1 } },
        axisLabel: { show: true, customValues: spec.ticks, margin, color: labelColor, fontSize, fontFamily: FONT, hideOverlap: false },
        splitLine: { show: false },
      });
      yAxis.push(hiddenY(gi));
      series.push({
        type: "line", xAxisIndex: gi, yAxisIndex: gi, data: data.map(([d, v]) => [v, d]),
        showSymbol: false, symbol: "none", clip: false, silent: true,
        lineStyle: { color: lineColor, width: 1 },
      });
    };

    addVar(p.L, "bottom", 467 - (TOP + PLOT_H), AXIS_GRAY, "#222", BLACK, 23, 19, p.LData);
    addVar(p.ln, "bottom", p.ln.y - (TOP + PLOT_H), BLUE, BLUE, BLUE, 23, 18, p.lnData);
    addVar(p.a, "top", TOP - 74, RED, RED, RED, 18, 19, p.aData);

    graphic.push(text((p.a.x0 + p.a.x1) / 2, 20, "a*", RED, 21));
    const lc = (p.L.x0 + p.L.x1) / 2;
    graphic.push(text(lc, 524, p.title, "#111", 22));
    graphic.push(text(lc, 547, "L*", "#111", 21));
    graphic.push(text((p.ln.x0 + p.ln.x1) / 2, p.ln.nameY, "ln(Ti/Ca)", BLUE, 18));
  });

  // overlay grid for tie lines (x in page pixels, y in depth)
  const go = addGrid(0, W);
  xAxis.push({ gridIndex: go, type: "value", min: 0, max: W, show: false });
  yAxis.push(hiddenY(go));
  const tieStyle = { color: "#333", width: 1.2, type: [2, 2.5] };
  series.push({
    type: "line", xAxisIndex: go, yAxisIndex: go, showSymbol: false, symbol: "none", clip: false, silent: true,
    data: TIE_UPPER_X.map((x, i) => [x, TIE_UPPER_DEPTH[i]]), lineStyle: tieStyle,
  });
  series.push({
    type: "line", xAxisIndex: go, yAxisIndex: go, showSymbol: false, symbol: "none", clip: false, silent: true,
    data: TIE_LOWER_X.map((x, i) => [x, TIE_LOWER_DEPTH[i]]), lineStyle: tieStyle,
  });

  graphic.push(text(22, 268, "Depth (m)", "#111", 18, "normal", Math.PI / 2));
  MIS_LABELS.forEach((m) => {
    graphic.push(text(m.x, m.y, m.text, m.bold ? RED : "#111", m.bold ? 22 : 14, m.bold ? "bold" : "normal"));
  });

  return {
    animation: false,
    backgroundColor: "#ffffff",
    grid, xAxis, yAxis, series, graphic,
  };
}

export default function App() {
  const ref = useRef<HTMLDivElement>(null);
  useEffect(() => {
    if (!ref.current) return;
    const chart = echarts.init(ref.current, null, { renderer: "svg" });
    chart.setOption(buildOption() as any);
    return () => chart.dispose();
  }, []);
  return (
    <div
      ref={ref}
      style={{ position: "fixed", left: 0, top: 0, width: W, height: H, background: "#fff" }}
    />
  );
}
